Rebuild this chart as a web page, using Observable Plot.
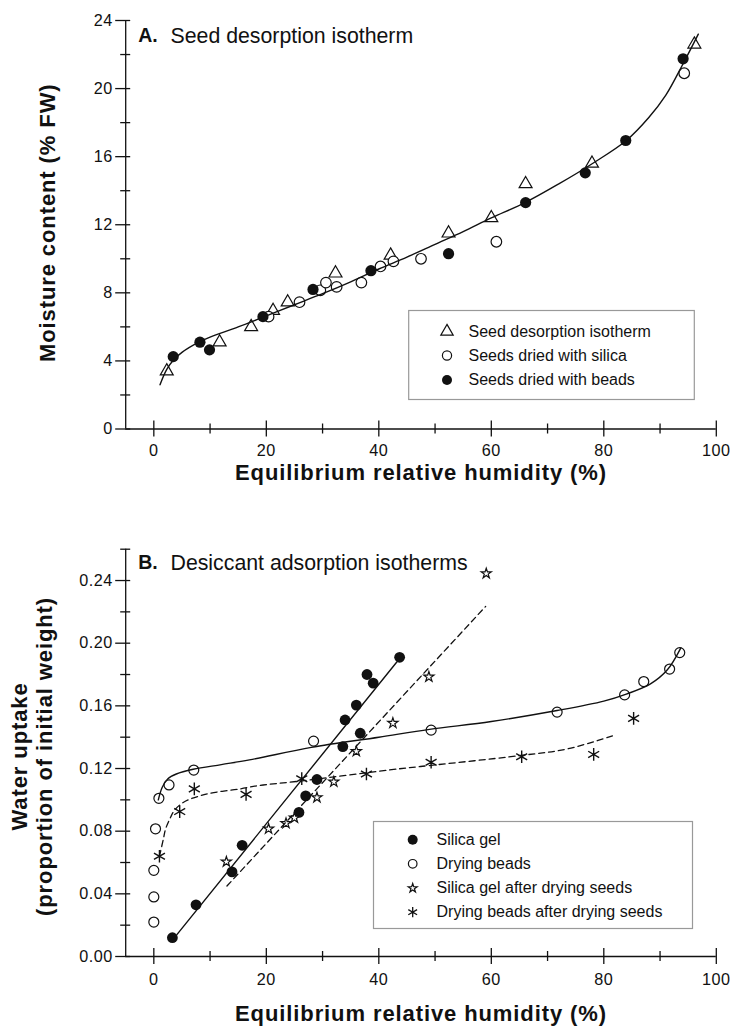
<!DOCTYPE html>
<html>
<head>
<meta charset="utf-8">
<script src="https://cdn.jsdelivr.net/npm/d3@7"></script>
<script src="https://cdn.jsdelivr.net/npm/@observablehq/plot@0.6"></script>
<style>
  body { margin: 0; background: #fff; }
  #chart svg { display: block; }
  g[font-size="22"] text { letter-spacing: 0.9px; }
  g[font-size="16.2"] text { letter-spacing: 0.5px; }
</style>
</head>
<body>
<div id="chart"></div>
<script>
// ---------- tick values ----------
const xMajor = [0, 20, 40, 60, 80, 100];
const xMinor = [10, 30, 50, 70, 90];
const aYMajor = [0, 4, 8, 12, 16, 20, 24];
const aYMinor = [2, 6, 10, 14, 18, 22];
const bYMajor = [0, 0.04, 0.08, 0.12, 0.16, 0.20, 0.24];
const bYMinor = [0.02, 0.06, 0.10, 0.14, 0.18, 0.22, 0.26];

// ---------- Panel A data: [ERH %, moisture content % FW] ----------
const seedIsotherm = [[2.3,3.4],[11.7,5.1],[17.3,6.0],[21.2,6.95],[23.8,7.45],[32.3,9.15],[42.1,10.2],[52.4,11.5],[60.0,12.4],[66.1,14.4],[77.9,15.6],[96.1,22.6]];
const seedsSilica = [[20.4,6.6],[25.9,7.45],[29.6,8.15],[30.6,8.6],[32.5,8.35],[36.9,8.6],[40.3,9.55],[42.6,9.85],[47.5,10.0],[60.9,11.0],[94.3,20.9]];
const seedsBeads = [[3.45,4.25],[8.2,5.1],[9.9,4.65],[19.4,6.6],[28.3,8.2],[38.6,9.3],[52.4,10.3],[66.1,13.3],[76.7,15.05],[83.9,16.95],[94.1,21.75]];
const seedFitCurve = [[1.1,2.6],[2.3,3.5],[3.5,4.05],[5,4.5],[8,5.1],[10,5.4],[15,6.0],[20,6.65],[25,7.3],[30,7.95],[35,8.65],[40,9.4],[45,10.1],[50,10.85],[55,11.6],[60,12.4],[66,13.3],[72,14.4],[78,15.6],[84,16.95],[88,18.3],[91,19.6],[94,21.4],[96.8,23.2]];

// ---------- Panel B data: [ERH %, water uptake proportion] ----------
const silicaGel = [[3.3,0.012],[7.5,0.033],[13.9,0.054],[15.7,0.071],[25.8,0.092],[27.0,0.1025],[29.0,0.113],[33.6,0.134],[34.0,0.151],[36.7,0.1425],[36.0,0.1605],[37.9,0.18],[39.0,0.1745],[43.7,0.191]];
const dryingBeads = [[0,0.022],[0,0.038],[0,0.055],[0.3,0.0815],[0.9,0.101],[2.7,0.1095],[7.1,0.119],[28.4,0.1375],[49.3,0.1445],[71.7,0.156],[83.7,0.167],[87.1,0.1755],[91.7,0.1835],[93.5,0.194]];
const silicaAfter = [[12.9,0.0605],[20.4,0.0815],[23.5,0.085],[25.0,0.0885],[29.0,0.1015],[32.0,0.1115],[36.0,0.131],[42.5,0.149],[48.9,0.1785],[59.1,0.2445]];
const beadsAfter = [[1.0,0.064],[4.6,0.0925],[7.2,0.107],[16.4,0.1035],[26.3,0.1135],[37.8,0.1165],[49.3,0.124],[65.4,0.1275],[78.2,0.129],[85.3,0.152]];
const silicaLine = [[4.1,0.014],[43.2,0.188]];
const silicaAfterLine = [[13.0,0.045],[59.0,0.2235]];
const beadsCurve = [[0.8,0.100],[1.5,0.108],[2.5,0.1135],[4,0.1165],[7,0.1195],[12,0.1225],[17,0.1255],[28,0.1335],[40,0.140],[49,0.145],[60,0.150],[71.7,0.157],[80,0.163],[84,0.1675],[88.3,0.174],[91.3,0.183],[93.7,0.197]];
const beadsAfterCurve = [[1.0,0.064],[1.7,0.075],[2.1,0.0815],[3.0,0.089],[3.6,0.093],[5.3,0.0985],[9.5,0.1038],[15.4,0.107],[18.4,0.109],[26,0.112],[43.6,0.1198],[47.4,0.1213],[65.2,0.1283],[73.5,0.1325],[81.8,0.1411]];

// ---------- labels ----------
const xTitle = "Equilibrium relative humidity (%)";
const aYTitle = "Moisture content (% FW)";
const bYTitle1 = "Water uptake";
const bYTitle2 = "(proportion of initial weight)";
const aPanel = ["A.", "Seed desorption isotherm"];
const bPanel = ["B.", "Desiccant adsorption isotherms"];
const aLegend = ["Seed desorption isotherm", "Seeds dried with silica", "Seeds dried with beads"];
const bLegend = ["Silica gel", "Drying beads", "Silica gel after drying seeds", "Drying beads after drying seeds"];

const FONT = "'Liberation Sans', Arial, Helvetica, sans-serif";
const INK = "#111";
const X0 = -5;
const TICK_FS = 16.2;

function axisMarks(yMajor, yMinor, yTop, yFmt, labelDy) {
  const ax = {stroke: INK, strokeWidth: 1.3};
  return [
    Plot.ruleY([0], {x1: () => X0, x2: () => 100, ...ax}),
    Plot.ruleX([X0], {y1: () => 0, y2: () => yTop, ...ax}),
    Plot.ruleX(xMajor, {x: d => d, y1: () => 0, y2: () => 0, insetTop: -8, insetBottom: -8, ...ax}),
    Plot.ruleX(xMinor, {x: d => d, y1: () => 0, y2: () => 0, insetTop: -5, insetBottom: -5, ...ax}),
    Plot.ruleY(yMajor, {y: d => d, x1: () => X0, x2: () => X0, insetLeft: -10, insetRight: -5, ...ax}),
    Plot.ruleY(yMinor, {y: d => d, x1: () => X0, x2: () => X0, insetLeft: -5, insetRight: -5, ...ax}),
    Plot.text(xMajor, {x: d => d, y: () => 0, text: d => String(d), dy: labelDy, lineAnchor: "top", fontSize: TICK_FS, fill: INK}),
    Plot.text(yMajor, {x: () => X0, y: d => d, text: yFmt, textAnchor: "end", dx: -13, lineAnchor: "middle", fontSize: TICK_FS, fill: INK})
  ];
}

function legendMarks(labels, symbols, box, sx, tx, rows) {
  const marks = [Plot.frame({stroke: "#999", strokeWidth: 1.2, fill: "none", ...box})];
  labels.forEach((lab, i) => {
    marks.push(Plot.dot([lab], {frameAnchor: "top-left", dx: sx, dy: rows[i], ...symbols[i]}));
    marks.push(Plot.text([lab], {frameAnchor: "top-left", dx: tx, dy: rows[i], text: d => d, textAnchor: "start", lineAnchor: "middle", fontSize: 16, fill: INK}));
  });
  return marks;
}

const openTri = {symbol: "triangle", r: 4.8, fill: "white", stroke: INK, strokeWidth: 1.2};
const openCirc = {symbol: "circle", r: 5.3, fill: "white", stroke: INK, strokeWidth: 1.2};
const fillCirc = {symbol: "circle", r: 5.6, fill: INK, stroke: "none"};
const openStar = {symbol: "star", r: 3.2, fill: "white", stroke: INK, strokeWidth: 1.2};
const aster = {symbol: "asterisk", r: 6.0, fill: "none", stroke: INK, strokeWidth: 1.4};

// ---------- Panel A ----------
const chartA = Plot.plot({
  width: 730, height: 490,
  marginLeft: 125.2, marginRight: 14.2, marginTop: 20, marginBottom: 61.5,
  x: {domain: [X0, 100], axis: null},
  y: {domain: [0, 24], axis: null},
  style: {fontFamily: FONT, background: "white", color: INK},
  marks: [
    ...axisMarks(aYMajor, aYMinor, 24, d => String(d), 15),
    Plot.dot(seedIsotherm, {x: d => d[0], y: d => d[1], ...openTri}),
    Plot.dot(seedsSilica, {x: d => d[0], y: d => d[1], ...openCirc}),
    Plot.dot(seedsBeads, {x: d => d[0], y: d => d[1], ...fillCirc}),
    Plot.line(seedFitCurve, {x: d => d[0], y: d => d[1], curve: "catmull-rom", stroke: INK, strokeWidth: 1.4}),
    Plot.text([xTitle], {frameAnchor: "bottom", dy: 44, textAnchor: "middle", lineAnchor: "middle", fontSize: 22, fontWeight: "bold", fill: INK}),
    Plot.text([aYTitle], {frameAnchor: "left", dx: -78, dy: -2, rotate: -90, textAnchor: "middle", lineAnchor: "middle", fontSize: 22, fontWeight: "bold", fill: INK}),
    Plot.text([aPanel[0]], {frameAnchor: "top-left", dx: 12.5, dy: 15.5, textAnchor: "start", lineAnchor: "middle", fontSize: 19.5, fontWeight: "bold", fill: INK}),
    Plot.text([aPanel[1]], {frameAnchor: "top-left", dx: 44.8, dy: 15.5, textAnchor: "start", lineAnchor: "middle", fontSize: 21.3, fill: INK}),
    ...legendMarks(aLegend,
      [{symbol: "triangle", r: 4.6, fill: "white", stroke: INK, strokeWidth: 1.2},
       {symbol: "circle", r: 4.6, fill: "white", stroke: INK, strokeWidth: 1.2},
       {symbol: "circle", r: 5.0, fill: INK, stroke: "none"}],
      {insetLeft: 283, insetRight: 22, insetTop: 290, insetBottom: 29.5},
      321.3, 342.8, [311, 335, 359.5])
  ]
});

// ---------- Panel B ----------
const chartB = Plot.plot({
  width: 730, height: 536,
  marginLeft: 125.2, marginRight: 14.2, marginTop: 58.7, marginBottom: 70,
  x: {domain: [X0, 100], axis: null},
  y: {domain: [0, 0.26], axis: null},
  style: {fontFamily: FONT, background: "white", color: INK},
  marks: [
    ...axisMarks(bYMajor, bYMinor, 0.26, d => d.toFixed(2), 17),
    Plot.dot(silicaGel, {x: d => d[0], y: d => d[1], ...fillCirc, r: 5.4}),
    Plot.dot(dryingBeads, {x: d => d[0], y: d => d[1], ...openCirc, r: 5.0}),
    Plot.dot(silicaAfter, {x: d => d[0], y: d => d[1], ...openStar}),
    Plot.dot(beadsAfter, {x: d => d[0], y: d => d[1], ...aster}),
    Plot.line(silicaLine, {x: d => d[0], y: d => d[1], stroke: INK, strokeWidth: 1.4}),
    Plot.line(beadsCurve, {x: d => d[0], y: d => d[1], curve: "catmull-rom", stroke: INK, strokeWidth: 1.4}),
    Plot.line(silicaAfterLine, {x: d => d[0], y: d => d[1], stroke: INK, strokeWidth: 1.3, strokeDasharray: "6,4"}),
    Plot.line(beadsAfterCurve, {x: d => d[0], y: d => d[1], curve: "catmull-rom", stroke: INK, strokeWidth: 1.3, strokeDasharray: "6,4"}),
    Plot.text([xTitle], {frameAnchor: "bottom", dy: 57, textAnchor: "middle", lineAnchor: "middle", fontSize: 22, fontWeight: "bold", fill: INK}),
    Plot.text([bYTitle1], {frameAnchor: "left", dx: -106, dy: 3.6, rotate: -90, textAnchor: "middle", lineAnchor: "middle", fontSize: 22, fontWeight: "bold", fill: INK}),
    Plot.text([bYTitle2], {frameAnchor: "left", dx: -80.5, dy: 3.6, rotate: -90, textAnchor: "middle", lineAnchor: "middle", fontSize: 22, fontWeight: "bold", fill: INK}),
    Plot.text([bPanel[0]], {frameAnchor: "top-left", dx: 12.5, dy: 13.8, textAnchor: "start", lineAnchor: "middle", fontSize: 19.5, fontWeight: "bold", fill: INK}),
    Plot.text([bPanel[1]], {frameAnchor: "top-left", dx: 44.8, dy: 13.8, textAnchor: "start", lineAnchor: "middle", fontSize: 21.3, fill: INK}),
    ...legendMarks(bLegend,
      [{symbol: "circle", r: 5.0, fill: INK, stroke: "none"},
       {symbol: "circle", r: 4.3, fill: "white", stroke: INK, strokeWidth: 1.2},
       {symbol: "star", r: 2.8, fill: "white", stroke: INK, strokeWidth: 1.2},
       {symbol: "asterisk", r: 4.8, fill: "none", stroke: INK, strokeWidth: 1.3}],
      {insetLeft: 247.8, insetRight: 23.8, insetTop: 272.3, insetBottom: 28},
      287, 310.8, [290.6, 314.6, 339, 363])
  ]
});

const root = document.getElementById("chart");
root.appendChild(chartA);
root.appendChild(chartB);
</script>
</body>
</html>
